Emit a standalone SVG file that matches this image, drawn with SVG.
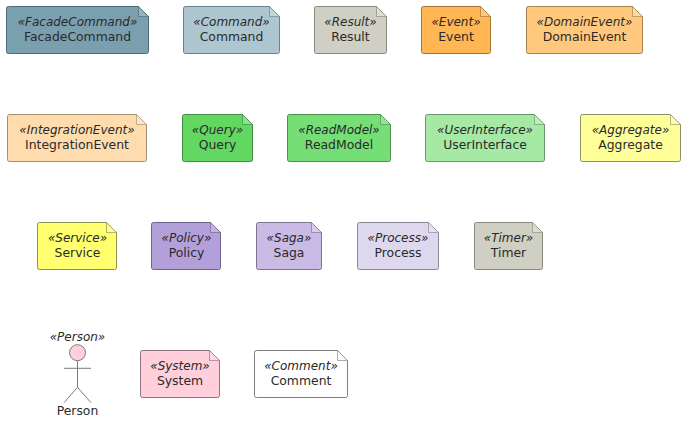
<svg xmlns="http://www.w3.org/2000/svg" width="686" height="422" viewBox="0 0 686 422">
<style>
text{font-family:"DejaVu Sans",sans-serif;font-size:12.4px;fill:#2a2a2a;text-anchor:middle}
.s{font-style:italic;font-size:12px}
.b{stroke:#6b6b60;stroke-width:1}
.f{stroke:#6b6b60;stroke-width:1;stroke-opacity:.65}
.l{fill:none;stroke:#6b6b60;stroke-width:1}
</style>
<g id="FacadeCommand"><path class="b" style="stroke:#4f6b75" fill="#7A9FAF" d="M8.5 6.5H138.500L148.500 16.500V51.500a2 2 0 0 1-2 2H8.500a2 2 0 0 1-2-2V8.500a2 2 0 0 1 2-2Z"/><path class="f" style="stroke:#4f6b75" fill="#92b4c1" d="M138.500 6.500V16.500H148.500Z"/><text class="s" x="77.500" y="26">«FacadeCommand»</text><text x="77.500" y="41">FacadeCommand</text></g>
<g id="Command"><path class="b" style="stroke:#6b828c" fill="#AEC6D0" d="M185.500 6.500H269.500L279.500 16.500V51.500a2 2 0 0 1-2 2H185.500a2 2 0 0 1-2-2V8.500a2 2 0 0 1 2-2Z"/><path class="f" style="stroke:#6b828c" fill="#c3d5dc" d="M269.500 6.500V16.500H279.500Z"/><text class="s" x="231.500" y="26">«Command»</text><text x="231.500" y="41">Command</text></g>
<g id="Result"><path class="b" style="stroke:#88887d" fill="#CFCFC3" d="M316.500 6.500H376.500L386.500 16.500V51.500a2 2 0 0 1-2 2H316.500a2 2 0 0 1-2-2V8.500a2 2 0 0 1 2-2Z"/><path class="f" style="stroke:#88887d" fill="#dcdcd2" d="M376.500 6.500V16.500H386.500Z"/><text class="s" x="350.500" y="26">«Result»</text><text x="350.500" y="41">Result</text></g>
<g id="Event"><path class="b" style="stroke:#a3753a" fill="#FFB653" d="M423.500 6.500H480.500L490.500 16.500V51.500a2 2 0 0 1-2 2H423.500a2 2 0 0 1-2-2V8.500a2 2 0 0 1 2-2Z"/><path class="f" style="stroke:#a3753a" fill="#ffc87c" d="M480.500 6.500V16.500H490.500Z"/><text class="s" x="456" y="26">«Event»</text><text x="456" y="41">Event</text></g>
<g id="DomainEvent"><path class="b" style="stroke:#a38350" fill="#FFC87D" d="M528.500 6.500H632.500L642.500 16.500V51.500a2 2 0 0 1-2 2H528.500a2 2 0 0 1-2-2V8.500a2 2 0 0 1 2-2Z"/><path class="f" style="stroke:#a38350" fill="#ffd79f" d="M632.500 6.500V16.500H642.500Z"/><text class="s" x="584.500" y="26">«DomainEvent»</text><text x="584.500" y="41">DomainEvent</text></g>
<g id="IntegrationEvent"><path class="b" style="stroke:#a38f70" fill="#FFDCAD" d="M9.500 114.500H136.500L146.500 124.500V159.500a2 2 0 0 1-2 2H9.500a2 2 0 0 1-2-2V116.500a2 2 0 0 1 2-2Z"/><path class="f" style="stroke:#a38f70" fill="#ffe8c8" d="M136.500 114.500V124.500H146.500Z"/><text class="s" x="77" y="134">«IntegrationEvent»</text><text x="77" y="149">IntegrationEvent</text></g>
<g id="Query"><path class="b" style="stroke:#408c40" fill="#62D862" d="M184.500 114.500H242.500L252.500 124.500V159.500a2 2 0 0 1-2 2H184.500a2 2 0 0 1-2-2V116.500a2 2 0 0 1 2-2Z"/><path class="f" style="stroke:#408c40" fill="#8ae38a" d="M242.500 114.500V124.500H252.500Z"/><text class="s" x="217.500" y="134">«Query»</text><text x="217.500" y="149">Query</text></g>
<g id="ReadModel"><path class="b" style="stroke:#4b8f4b" fill="#75DE75" d="M289.500 114.500H380.500L390.500 124.500V159.500a2 2 0 0 1-2 2H289.500a2 2 0 0 1-2-2V116.500a2 2 0 0 1 2-2Z"/><path class="f" style="stroke:#4b8f4b" fill="#97e697" d="M380.500 114.500V124.500H390.500Z"/><text class="s" x="339" y="134">«ReadModel»</text><text x="339" y="149">ReadModel</text></g>
<g id="UserInterface"><path class="b" style="stroke:#6a966a" fill="#A5E9A5" d="M427.500 114.500H534.500L544.500 124.500V159.500a2 2 0 0 1-2 2H427.500a2 2 0 0 1-2-2V116.500a2 2 0 0 1 2-2Z"/><path class="f" style="stroke:#6a966a" fill="#bdeebd" d="M534.500 114.500V124.500H544.500Z"/><text class="s" x="485" y="134">«UserInterface»</text><text x="485" y="149">UserInterface</text></g>
<g id="Aggregate"><path class="b" style="stroke:#8f8f6a" fill="#FFFF99" d="M582.500 114.500H670.500L680.500 124.500V159.500a2 2 0 0 1-2 2H582.500a2 2 0 0 1-2-2V116.500a2 2 0 0 1 2-2Z"/><path class="f" style="stroke:#8f8f6a" fill="#ffffbb" d="M670.500 114.500V124.500H680.500Z"/><text class="s" x="630.500" y="134">«Aggregate»</text><text x="630.500" y="149">Aggregate</text></g>
<g id="Service"><path class="b" style="stroke:#8f8f50" fill="#FFFF70" d="M39.500 222.500H106.500L116.500 232.500V267.500a2 2 0 0 1-2 2H39.500a2 2 0 0 1-2-2V224.500a2 2 0 0 1 2-2Z"/><path class="f" style="stroke:#8f8f50" fill="#ffff99" d="M106.500 222.500V232.500H116.500Z"/><text class="s" x="77.500" y="242">«Service»</text><text x="77.500" y="257">Service</text></g>
<g id="Policy"><path class="b" style="stroke:#6f6288" fill="#B39FDA" d="M153.500 222.500H210.500L220.500 232.500V267.500a2 2 0 0 1-2 2H153.500a2 2 0 0 1-2-2V224.500a2 2 0 0 1 2-2Z"/><path class="f" style="stroke:#6f6288" fill="#c5b5e4" d="M210.500 222.500V232.500H220.500Z"/><text class="s" x="186.500" y="242">«Policy»</text><text x="186.500" y="257">Policy</text></g>
<g id="Saga"><path class="b" style="stroke:#7d748f" fill="#C9BAE6" d="M258.500 222.500H311.500L321.500 232.500V267.500a2 2 0 0 1-2 2H258.500a2 2 0 0 1-2-2V224.500a2 2 0 0 1 2-2Z"/><path class="f" style="stroke:#7d748f" fill="#d7cceb" d="M311.500 222.500V232.500H321.500Z"/><text class="s" x="289" y="242">«Saga»</text><text x="289" y="257">Saga</text></g>
<g id="Process"><path class="b" style="stroke:#8a8695" fill="#DED8EF" d="M359.500 222.500H428.500L438.500 232.500V267.500a2 2 0 0 1-2 2H359.500a2 2 0 0 1-2-2V224.500a2 2 0 0 1 2-2Z"/><path class="f" style="stroke:#8a8695" fill="#e7e2f3" d="M428.500 222.500V232.500H438.500Z"/><text class="s" x="398" y="242">«Process»</text><text x="398" y="257">Process</text></g>
<g id="Timer"><path class="b" style="stroke:#88887d" fill="#CFCFC3" d="M476.500 222.500H532.500L542.500 232.500V267.500a2 2 0 0 1-2 2H476.500a2 2 0 0 1-2-2V224.500a2 2 0 0 1 2-2Z"/><path class="f" style="stroke:#88887d" fill="#dcdcd2" d="M532.500 222.500V232.500H542.500Z"/><text class="s" x="508.500" y="242">«Timer»</text><text x="508.500" y="257">Timer</text></g>
<g id="Person"><text class="s" x="77.500" y="341">«Person»</text><circle cx="77.500" cy="352.700" r="8" fill="#FFCFDB" stroke="#7b7b7b"/><path class="l" style="stroke:#7b7b7b" d="M77.500 360.700V387.300M64 368.300H91M77.500 387.300L64 402.700M77.500 387.300L91 402.700"/><text x="77.500" y="415">Person</text></g>
<g id="System"><path class="b" style="stroke:#8f7379" fill="#FFCFDB" d="M142.500 350.500H209.500L219.500 360.500V395.500a2 2 0 0 1-2 2H142.500a2 2 0 0 1-2-2V352.500a2 2 0 0 1 2-2Z"/><path class="f" style="stroke:#8f7379" fill="#ffdce5" d="M209.500 350.500V360.500H219.500Z"/><text class="s" x="180" y="370">«System»</text><text x="180" y="385">System</text></g>
<g id="Comment"><path class="b" style="stroke:#7f7f7f" fill="#FFFFFF" d="M256.500 350.500H337.500L347.500 360.500V395.500a2 2 0 0 1-2 2H256.500a2 2 0 0 1-2-2V352.500a2 2 0 0 1 2-2Z"/><path class="f" style="stroke:#7f7f7f" fill="#FFFFFF" d="M337.500 350.500V360.500H347.500Z"/><text class="s" x="301" y="370">«Comment»</text><text x="301" y="385">Comment</text></g>
<g id="connectors"/>
</svg>
